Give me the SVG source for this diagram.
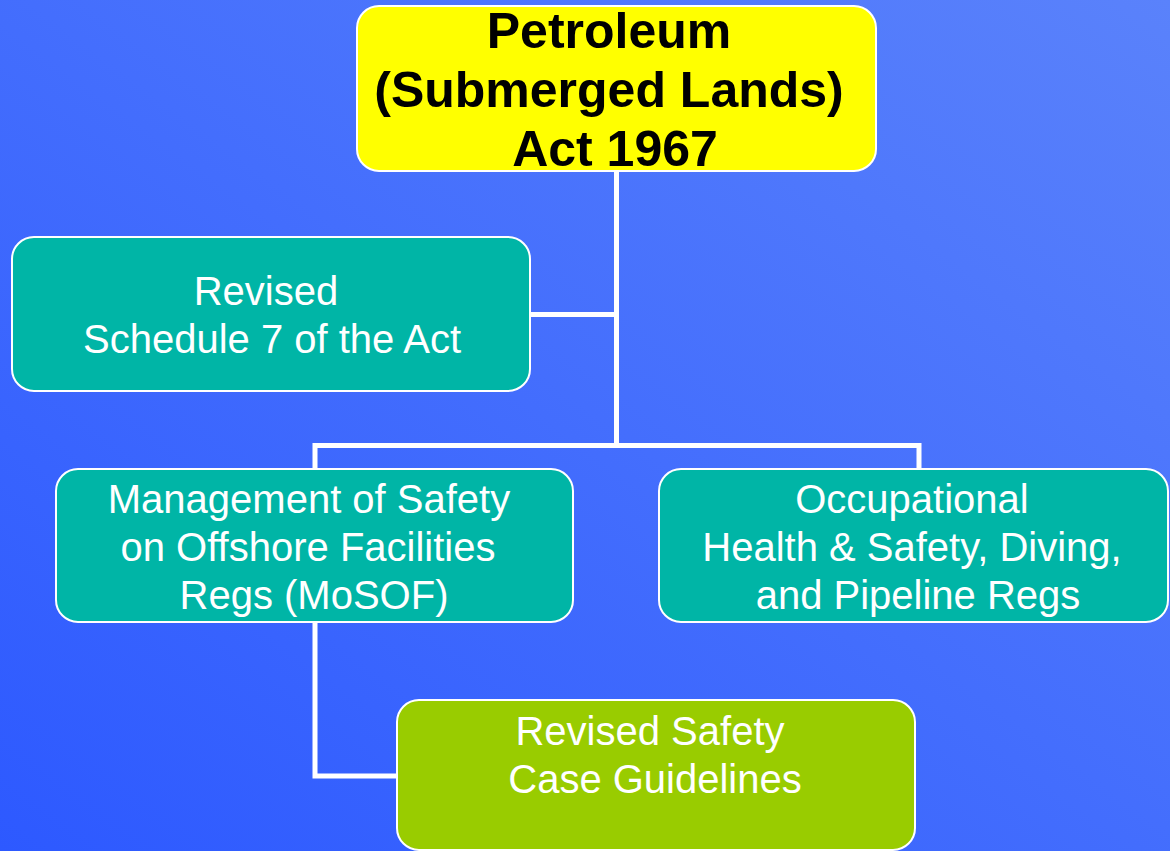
<svg xmlns="http://www.w3.org/2000/svg" width="1170" height="851" viewBox="0 0 1170 851">
<defs>
<linearGradient id="bg" x1="0" y1="1" x2="1" y2="0">
<stop offset="0" stop-color="#2d59ff"/>
<stop offset="1" stop-color="#5a82fb"/>
</linearGradient>
<style>
.box{stroke:#ffffff;stroke-width:2}
.teal{fill:#00b5a6}
.yellow{fill:#ffff00}
.green{fill:#99cc00}
.t{font-family:"Liberation Sans",Arial,sans-serif;fill:#ffffff;font-size:40px;text-anchor:middle}
.tb{font-family:"Liberation Sans",Arial,sans-serif;fill:#000000;font-size:50px;font-weight:bold;text-anchor:middle}
.conn{stroke:#ffffff;stroke-width:5;fill:none;stroke-linecap:square}
</style>
</defs>
<rect width="1170" height="851" fill="url(#bg)"/>
<g id="connectors">
<path class="conn" d="M616.5,171 V445.5"/>
<path class="conn" d="M530,314.5 H616.5"/>
<path class="conn" d="M315,469 V445.5 H919 V469"/>
<path class="conn" d="M315,622 V776 H397"/>
</g>
<g id="act">
<rect class="box yellow" x="357" y="6" width="519" height="165" rx="22"/>
<text class="tb" x="609" y="48">Petroleum</text>
<text class="tb" x="609" y="107">(Submerged Lands)</text>
<text class="tb" x="615" y="166">Act 1967</text>
</g>
<g id="schedule7">
<rect class="box teal" x="12" y="237" width="518" height="154" rx="22"/>
<text class="t" x="266" y="305">Revised</text>
<text class="t" x="272" y="353">Schedule 7 of the Act</text>
</g>
<g id="mosof">
<rect class="box teal" x="56" y="469" width="517" height="153" rx="22"/>
<text class="t" x="309" y="513">Management of Safety</text>
<text class="t" x="308" y="561">on Offshore Facilities</text>
<text class="t" x="314" y="609">Regs (MoSOF)</text>
</g>
<g id="ohs">
<rect class="box teal" x="659" y="469" width="509" height="153" rx="22"/>
<text class="t" x="912" y="513">Occupational</text>
<text class="t" x="912" y="561">Health &amp; Safety, Diving,</text>
<text class="t" x="918" y="609">and Pipeline Regs</text>
</g>
<g id="safetycase">
<rect class="box green" x="397" y="700" width="518" height="150" rx="22"/>
<text class="t" x="650" y="745">Revised Safety</text>
<text class="t" x="655" y="793">Case Guidelines</text>
</g>
</svg>
